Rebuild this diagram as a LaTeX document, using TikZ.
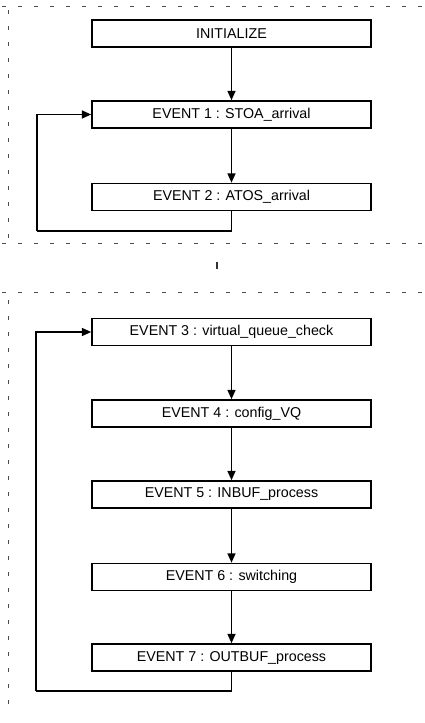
\documentclass[tikz,border=0pt]{standalone}
\usepackage{fontspec}
\setmainfont{Liberation Sans}
\usetikzlibrary{arrows.meta}

\tikzset{
  eventbox/.style={draw=black, line width=1.2pt, fill=white, rectangle,
    minimum width=209.25pt, minimum height=20.25pt, inner sep=0pt,
    font=\fontsize{10.7pt}{12pt}\selectfont},
  conn/.style={draw=black, line width=1.1pt,
    -{Triangle[length=7pt,width=6pt]}},
  plain/.style={draw=black, line width=1.1pt},
  frame/.style={draw=black!70, line width=0.6pt, dash pattern=on 3pt off 9pt}
}

\begin{document}
\begin{tikzpicture}[x=0.75pt, y=-0.75pt]
  \useasboundingbox (0,0) rectangle (424,723);

  % dashed frame of the first panel
  \draw[frame] (2,6) -- (424,6);
  \draw[frame] (8,10) -- (8,238);
  \draw[frame] (2,243) -- (424,243);
  \draw[black!80, line width=0.8pt] (217,262) -- (217,269);

  % dashed frame of the second panel
  \draw[frame] (2,292) -- (424,292);
  \draw[frame] (8,300) -- (8,712);

  % first panel: initialisation and arrival events
  \node[eventbox] (init) at (231.5,33.5) {INITIALIZE};
  \node[eventbox] (e1) at (231.5,114.5) {EVENT 1 : STOA\_arrival};
  \node[eventbox] (e2) at (231.5,197) {EVENT 2 : ATOS\_arrival};
  \coordinate (loopa) at (37,231);

  \draw[conn] (init) -- (e1);
  \draw[conn] (e1) -- (e2);
  \draw[plain] (e2.south) |- (loopa);
  \draw[conn] (loopa) |- (e1.west);

  % second panel: event processing cycle
  \node[eventbox] (e3) at (231.5,332) {EVENT 3 : virtual\_queue\_check};
  \node[eventbox] (e4) at (231.5,413.5) {EVENT 4 : config\_VQ};
  \node[eventbox] (e5) at (231.5,494.5) {EVENT 5 : INBUF\_process};
  \node[eventbox] (e6) at (231.5,577) {EVENT 6 : switching};
  \node[eventbox] (e7) at (231.5,657.5) {EVENT 7 : OUTBUF\_process};
  \coordinate (loopb) at (36,691);

  \draw[conn] (e3) -- (e4);
  \draw[conn] (e4) -- (e5);
  \draw[conn] (e5) -- (e6);
  \draw[conn] (e6) -- (e7);
  \draw[plain] (e7.south) |- (loopb);
  \draw[conn] (loopb) |- (e3.west);
\end{tikzpicture}
\end{document}
